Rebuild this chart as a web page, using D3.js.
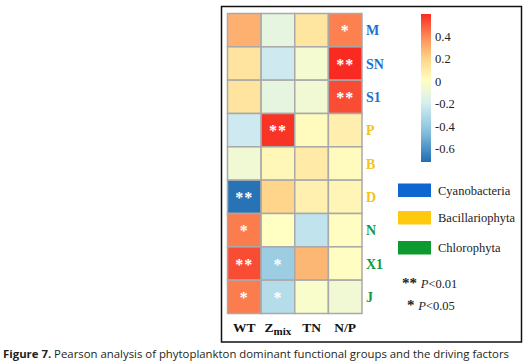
<!DOCTYPE html>
<html>
<head>
<meta charset="utf-8">
<script src="https://cdn.jsdelivr.net/npm/d3@7"></script>
<style>
  body { margin: 0; background: #fff; }
  svg { display: block; }
  .serif { font-family: 'Liberation Serif', 'DejaVu Serif', serif; }
</style>
</head>
<body>
<svg id="chart" width="532" height="363"></svg>
<script>
// functional groups (rows) and driving factors (columns)
var groups = ['M', 'SN', 'S1', 'P', 'B', 'D', 'N', 'X1', 'J'];
var groupPhylum = ['Cyano', 'Cyano', 'Cyano', 'Bacil', 'Bacil', 'Bacil', 'Chloro', 'Chloro', 'Chloro'];
var factors = ['WT', 'Zmix', 'TN', 'N/P'];

// Pearson r
var rWT   = [0.30, 0.13, 0.13, -0.22, -0.07, -0.70, 0.43, 0.53, 0.43];
var rZmix = [-0.12, -0.22, -0.12, 0.58, 0.04, 0.20, 0.00, -0.38, -0.30];
var rTN   = [0.12, -0.05, -0.07, 0.02, 0.10, 0.07, -0.26, 0.28, -0.03];
var rNP   = [0.42, 0.60, 0.53, 0.08, 0.02, 0.05, 0.01, 0.01, -0.07];

// significance marks
var sigWT   = ['', '', '', '', '', '**', '*', '**', '*'];
var sigZmix = ['', '', '', '**', '', '', '', '*', '*'];
var sigTN   = ['', '', '', '', '', '', '', '', ''];
var sigNP   = ['*', '**', '**', '', '', '', '', '', ''];

var colorTicks = [0.4, 0.2, 0, -0.2, -0.4, -0.6];
var phyla = ['Cyanobacteria', 'Bacillariophyta', 'Chlorophyta'];
var phylumKeys = ['Cyano', 'Bacil', 'Chloro'];

var values = [rWT, rZmix, rTN, rNP];
var sigs = [sigWT, sigZmix, sigTN, sigNP];

var cells = [];
groups.forEach(function(g, i) {
    factors.forEach(function(f, j) {
        cells.push({ group: g, factor: f, r: values[j][i], sig: sigs[j][i] });
    });
});

var svg = d3.select('#chart');

var phylumColor = d3.scaleOrdinal()
    .domain(phylumKeys)
    .range(['#0f66d0', '#ffc90e', '#0f9a30']);
var labelColor = d3.scaleOrdinal()
    .domain(phylumKeys)
    .range(['#1f70cf', '#f6c21c', '#139a3a']);

// diverging colour scale: blue - pale yellow - red
var color = d3.scaleLinear()
    .domain([-0.72, -0.45, -0.2, 0, 0.2, 0.4, 0.6])
    .range(['#1f6db2', '#86c0dc', '#d4eef2', '#ffffc4', '#fed58a', '#fc8a55', '#f82a22'])
    .interpolate(d3.interpolateRgb)
    .clamp(true);

// outer frame
svg.append('rect')
    .attr('x', 221.5).attr('y', 6.5)
    .attr('width', 300).attr('height', 335.5)
    .attr('fill', 'none')
    .attr('stroke', '#111')
    .attr('stroke-width', 1.5);

var grid = { left: 227.5, top: 13.5, width: 134.5, height: 300 };

var x = d3.scaleBand().domain(factors).range([grid.left, grid.left + grid.width]);
var y = d3.scaleBand().domain(groups).range([grid.top, grid.top + grid.height]);

svg.append('g').selectAll('rect')
    .data(cells)
    .enter()
    .append('rect')
    .attr('x', function(d) { return x(d.factor); })
    .attr('y', function(d) { return y(d.group); })
    .attr('width', x.bandwidth())
    .attr('height', y.bandwidth())
    .attr('fill', function(d) { return color(d.r); })
    .attr('stroke', '#a9a9a9')
    .attr('stroke-width', 1.5);

svg.append('g').selectAll('text')
    .data(cells.filter(function(d) { return d.sig; }))
    .enter()
    .append('text')
    .attr('class', 'serif')
    .attr('x', function(d) { return x(d.factor) + x.bandwidth() / 2; })
    .attr('y', function(d) { return y(d.group) + y.bandwidth() / 2 + 6; })
    .attr('text-anchor', 'middle')
    .attr('fill', '#fff')
    .style('font-weight', 'bold')
    .style('font-size', '16px')
    .style('letter-spacing', '1px')
    .text(function(d) { return d.sig; });

// row labels
svg.append('g').selectAll('text')
    .data(groups)
    .enter()
    .append('text')
    .attr('class', 'serif')
    .attr('x', 366)
    .attr('y', function(d) { return y(d) + y.bandwidth() / 2 + 5; })
    .attr('fill', function(d, i) { return labelColor(groupPhylum[i]); })
    .style('font-weight', 'bold')
    .style('font-size', '14px')
    .text(function(d) { return d; });

// column labels
var colLab = svg.append('g').selectAll('text')
    .data(factors)
    .enter()
    .append('text')
    .attr('class', 'serif')
    .attr('x', function(d) { return x(d) + x.bandwidth() / 2; })
    .attr('y', 332)
    .attr('text-anchor', 'middle')
    .style('font-weight', 'bold')
    .style('font-size', '13.5px')
    .attr('fill', '#111');
colLab.each(function(d) {
    var t = d3.select(this);
    if (d === 'Zmix') {
        t.append('tspan').text('Z');
        t.append('tspan').attr('dy', 3).style('font-size', '11px').text('mix');
    } else {
        t.text(d);
    }
});

// colour bar
var bar = { x: 421, y: 14, w: 10, h: 148 };
var barScale = d3.scaleLinear().domain([0.6, -0.72]).range([bar.y, bar.y + bar.h]);
var defs = svg.append('defs');
var grad = defs.append('linearGradient')
    .attr('id', 'cbar')
    .attr('x1', 0).attr('y1', 1).attr('x2', 0).attr('y2', 0);
d3.range(0, 1.0001, 0.05).forEach(function(t) {
    grad.append('stop')
        .attr('offset', t)
        .attr('stop-color', color(-0.72 + t * 1.32));
});
svg.append('rect')
    .attr('x', bar.x).attr('y', bar.y)
    .attr('width', bar.w).attr('height', bar.h)
    .attr('fill', 'url(#cbar)');

svg.append('g').selectAll('text')
    .data(colorTicks)
    .enter()
    .append('text')
    .attr('class', 'serif')
    .attr('x', 435)
    .attr('y', function(d) { return barScale(d) + 4.5; })
    .style('font-size', '12.5px')
    .attr('fill', '#222')
    .text(function(d) { return d; });

// phylum legend
var legY = [183.5, 211, 241];
var leg = svg.append('g').selectAll('g')
    .data(phyla)
    .enter()
    .append('g')
    .attr('transform', function(d, i) { return 'translate(398,' + legY[i] + ')'; });
leg.append('rect')
    .attr('width', 33).attr('height', 13.5)
    .attr('fill', function(d, i) { return phylumColor(phylumKeys[i]); });
leg.append('text')
    .attr('class', 'serif')
    .attr('x', 40).attr('y', 11)
    .style('font-size', '12.5px')
    .attr('fill', '#222')
    .text(function(d) { return d; });

// significance legend
var sigLeg = [{ s: '**', p: '0.01', y: 288, x: 402 }, { s: '*', p: '0.05', y: 310, x: 407 }];
sigLeg.forEach(function(d) {
    var t = svg.append('text')
        .attr('class', 'serif')
        .attr('x', d.x).attr('y', d.y)
        .style('font-size', '12.5px')
        .attr('fill', '#222');
    t.append('tspan').style('font-weight', 'bold').style('font-size', '15px').text(d.s + ' ');
    t.append('tspan').style('font-style', 'italic').text('P');
    t.append('tspan').text('<' + d.p);
});

// caption
var cap = svg.append('text')
    .attr('x', 3).attr('y', 358)
    .style('font-family', '"Open Sans", "Noto Sans", sans-serif')
    .style('font-size', '11px')
    .attr('fill', '#231f20')
    .attr('textLength', 506)
    .attr('lengthAdjust', 'spacingAndGlyphs');
cap.append('tspan').style('font-weight', 'bold').text('Figure 7.');
cap.append('tspan').text(' Pearson analysis of phytoplankton dominant functional groups and the driving factors');
</script>
</body>
</html>
